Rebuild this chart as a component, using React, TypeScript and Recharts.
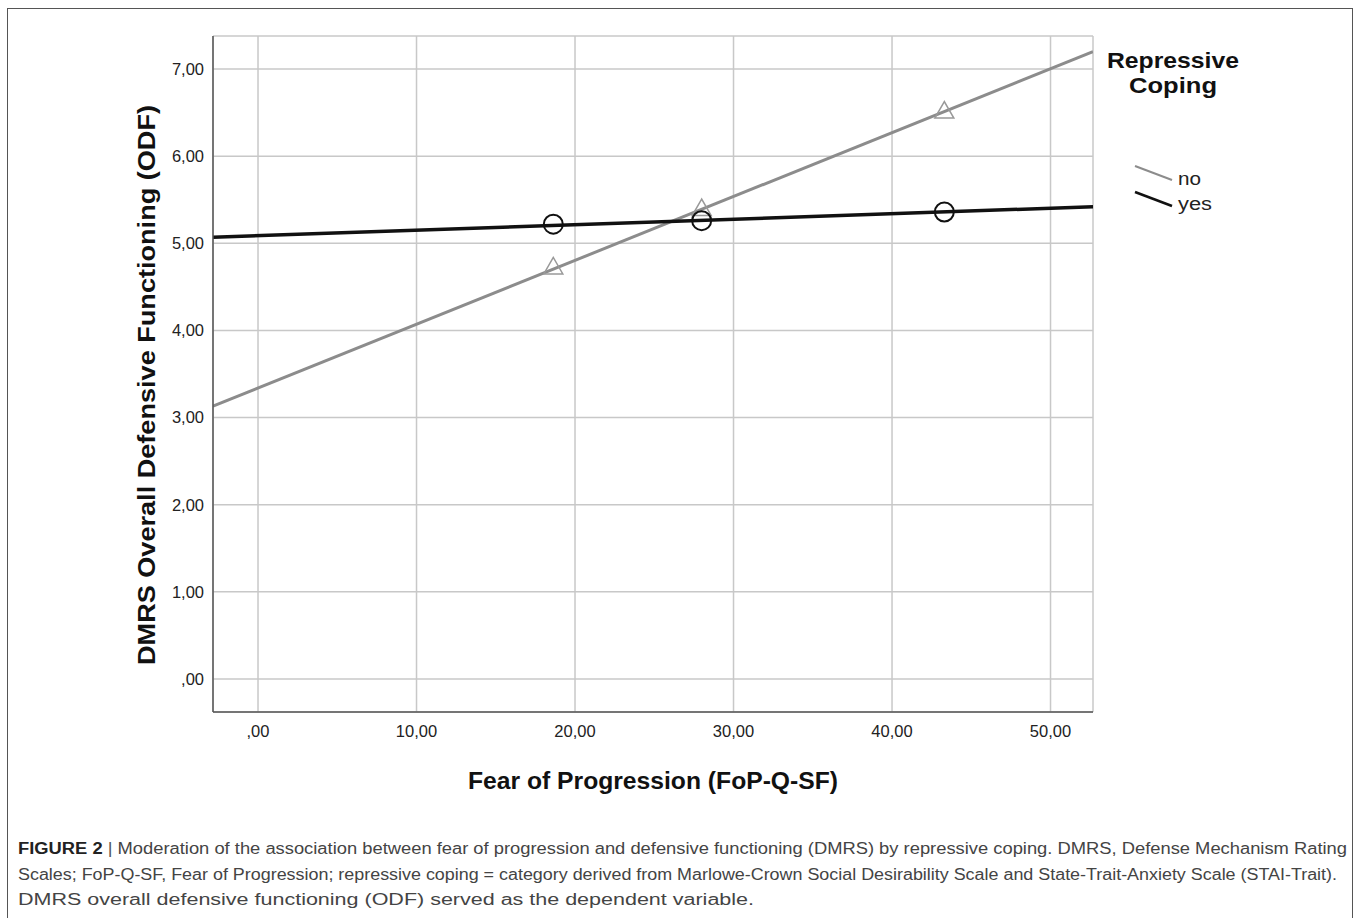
import {
  CartesianGrid,
  ComposedChart,
  Label,
  Legend,
  Line,
  Scatter,
  XAxis,
  YAxis
} from "recharts";

const FONT = '"Liberation Sans", Arial, Helvetica, sans-serif';

// fitted lines span the whole FoP axis
const fopRange = [-2.84, 52.68];
const noFitEnds = [3.13, 7.2];
const yesFitEnds = [5.07, 5.42];

// cell means at low / mean / high FoP
const fopLevels = [18.63, 27.99, 43.3];
const noMeans = [4.74, 5.41, 6.53];
const yesMeans = [5.22, 5.26, 5.36];

const xTicks = [0, 10, 20, 30, 40, 50];
const yTicks = [0, 1, 2, 3, 4, 5, 6, 7];

const groupNames = ["no", "yes"];
const groupColors = ["#8c8c8c", "#111111"];

const captionLines = [
  "Moderation of the association between fear of progression and defensive functioning (DMRS) by repressive coping. DMRS, Defense Mechanism Rating",
  "Scales; FoP-Q-SF, Fear of Progression; repressive coping = category derived from Marlowe-Crown Social Desirability Scale and State-Trait-Anxiety Scale (STAI-Trait).",
  "DMRS overall defensive functioning (ODF) served as the dependent variable."
];

const noLine = fopRange.map((x, i) => ({ x, y: noFitEnds[i] }));
const yesLine = fopRange.map((x, i) => ({ x, y: yesFitEnds[i] }));
const noPoints = fopLevels.map((x, i) => ({ x, y: noMeans[i] }));
const yesPoints = fopLevels.map((x, i) => ({ x, y: yesMeans[i] }));

const fmt = (v: number) => (v === 0 ? ",00" : v.toFixed(2).replace(".", ","));

const Triangle = (props: any) => {
  const { cx, cy } = props;
  if (cx == null || cy == null) return null;
  return (
    <polygon
      points={`${cx},${cy - 8.5} ${cx - 9.5},${cy + 8} ${cx + 9.5},${cy + 8}`}
      fill="none"
      stroke="#999"
      strokeWidth={1.5}
    />
  );
};

const Ring = (props: any) => {
  const { cx, cy } = props;
  if (cx == null || cy == null) return null;
  return <circle cx={cx} cy={cy} r={9.5} fill="none" stroke="#111" strokeWidth={2} />;
};

const XTitle = (props: any) => {
  const vb = props.viewBox || { x: 213, width: 880 };
  return (
    <text
      x={vb.x + vb.width / 2}
      y={789}
      textAnchor="middle"
      fontFamily={FONT}
      fontWeight="bold"
      fontSize={23}
      fill="#111"
      textLength={370}
      lengthAdjust="spacingAndGlyphs"
    >
      Fear of Progression (FoP-Q-SF)
    </text>
  );
};

const YTitle = () => (
  <text
    x={0}
    y={0}
    transform="translate(155, 385) rotate(-90)"
    textAnchor="middle"
    fontFamily={FONT}
    fontWeight="bold"
    fontSize={24}
    fill="#111"
    textLength={560}
    lengthAdjust="spacingAndGlyphs"
  >
    DMRS Overall Defensive Functioning (ODF)
  </text>
);

const LegendBox = () => (
  <svg width={170} height={180} style={{ display: "block" }}>
    <text
      x={78}
      y={28}
      textAnchor="middle"
      fontFamily={FONT}
      fontWeight="bold"
      fontSize={22}
      fill="#111"
      textLength={132}
      lengthAdjust="spacingAndGlyphs"
    >
      Repressive
    </text>
    <text
      x={78}
      y={53}
      textAnchor="middle"
      fontFamily={FONT}
      fontWeight="bold"
      fontSize={22}
      fill="#111"
      textLength={88}
      lengthAdjust="spacingAndGlyphs"
    >
      Coping
    </text>
    {groupNames.map((name, i) => (
      <g key={name}>
        <line
          x1={40}
          y1={126 + i * 26}
          x2={77}
          y2={140 + i * 26}
          stroke={groupColors[i]}
          strokeWidth={i === 0 ? 2 : 2.5}
        />
        <text
          x={83}
          y={145 + i * 25}
          fontFamily={FONT}
          fontSize={18}
          fill="#222"
          textLength={i === 0 ? 23 : 34}
          lengthAdjust="spacingAndGlyphs"
        >
          {name}
        </text>
      </g>
    ))}
  </svg>
);

export default function App() {
  return (
    <div style={{ position: "absolute", left: 0, top: 0, width: 1357, height: 918, background: "#fff" }}>
      <div
        style={{
          position: "absolute",
          left: 7,
          top: 8,
          width: 1346,
          height: 910,
          border: "1.5px solid #555",
          borderBottom: "none",
          boxSizing: "border-box"
        }}
      />
      <div style={{ position: "absolute", left: 0, top: 0 }}>
        <ComposedChart
          width={1357}
          height={800}
          margin={{ top: 36, right: 264, left: 153, bottom: 58 }}
        >
          <CartesianGrid stroke="#c8c8c8" strokeWidth={1.5} />
          <XAxis
            type="number"
            dataKey="x"
            domain={[fopRange[0], fopRange[1]]}
            ticks={xTicks}
            tickFormatter={fmt}
            tickLine={false}
            tickMargin={7}
            height={30}
            axisLine={{ stroke: "#555", strokeWidth: 1.5 }}
            tick={{ fontSize: 16.5, fill: "#222", fontFamily: FONT }}
            allowDataOverflow
          >
            <Label content={XTitle} />
          </XAxis>
          <YAxis
            type="number"
            dataKey="y"
            domain={[-0.38, 7.38]}
            ticks={yTicks}
            tickFormatter={fmt}
            tickLine={false}
            tickMargin={3}
            width={60}
            axisLine={{ stroke: "#555", strokeWidth: 1.5 }}
            tick={{ fontSize: 16.5, fill: "#222", fontFamily: FONT }}
            allowDataOverflow
          >
            <Label content={YTitle} />
          </YAxis>
          <Legend
            layout="horizontal"
            verticalAlign="middle"
            align="center"
            content={LegendBox}
            wrapperStyle={{ position: "absolute", left: 1095, top: 40, width: 170, height: 180 }}
          />
          <Line
            data={noLine}
            dataKey="y"
            name={groupNames[0]}
            stroke={groupColors[0]}
            strokeWidth={3}
            dot={false}
            activeDot={false}
            isAnimationActive={false}
          />
          <Line
            data={yesLine}
            dataKey="y"
            name={groupNames[1]}
            stroke={groupColors[1]}
            strokeWidth={3.5}
            dot={false}
            activeDot={false}
            isAnimationActive={false}
          />
          <Scatter data={noPoints} dataKey="y" shape={Triangle} legendType="none" isAnimationActive={false} />
          <Scatter data={yesPoints} dataKey="y" shape={Ring} legendType="none" isAnimationActive={false} />
        </ComposedChart>
      </div>
      <svg
        width={1357}
        height={88}
        style={{ position: "absolute", left: 0, top: 830, display: "block" }}
      >
        <text
          x={18}
          y={24}
          fontFamily={FONT}
          fontSize={16}
          fill="#444"
          textLength={1329}
          lengthAdjust="spacingAndGlyphs"
        >
          <tspan fontWeight="bold" fill="#222">FIGURE 2 </tspan>
          <tspan fill="#555">| </tspan>
          <tspan>{captionLines[0]}</tspan>
        </text>
        <text
          x={18}
          y={49.5}
          fontFamily={FONT}
          fontSize={16}
          fill="#444"
          textLength={1319}
          lengthAdjust="spacingAndGlyphs"
        >
          {captionLines[1]}
        </text>
        <text
          x={18}
          y={75}
          fontFamily={FONT}
          fontSize={16}
          fill="#444"
          textLength={736}
          lengthAdjust="spacingAndGlyphs"
        >
          {captionLines[2]}
        </text>
      </svg>
    </div>
  );
}
